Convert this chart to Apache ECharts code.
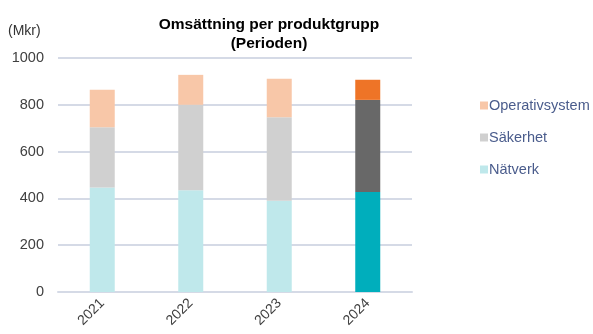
<!DOCTYPE html>
<html><head><meta charset="utf-8">
<script src="https://cdn.jsdelivr.net/npm/echarts@6/dist/echarts.min.js"></script>
<style>html,body{margin:0;padding:0;background:#fff}#c{width:593px;height:334px}</style>
</head><body><div id="c"></div>
<script>
const categories = ['2021','2022','2023','2024'];
const natverk = [447, 435, 390, 427];
const sakerhet = [257, 365, 357, 394];
const operativsystem = [160, 128, 164, 86];
const yTicks = [0, 200, 400, 600, 800, 1000];

const lightColors = {nat:'#BFE8EB', sak:'#D0D0D0', os:'#F8C7A8'};
const darkColors = {nat:'#00AEBC', sak:'#686868', os:'#EE7427'};

function mk(vals, key){
  return vals.map((v,i)=>({value:v, itemStyle:{color: i===vals.length-1 ? darkColors[key] : lightColors[key]}}));
}
const font = 'Liberation Sans, Arial, sans-serif';
const chart = echarts.init(document.getElementById('c'));
chart.setOption({
  animation:false,
  title:{text:'Omsättning per produktgrupp\n(Perioden)', left:264, top:10, textAlign:'center',
    textStyle:{fontFamily:font,fontSize:15.5,fontWeight:'bold',color:'#000',lineHeight:19}},
  graphic:[{type:'text',left:8,top:24,style:{text:'(Mkr)',font:'14px '+font,fill:'#333'}}],
  legend:{orient:'vertical',left:475,top:93,itemGap:17,itemWidth:8,itemHeight:8,icon:'rect',
    data:['Operativsystem','Säkerhet','Nätverk'],
    textStyle:{fontFamily:font,fontSize:14.5,color:'#4A5C8C',padding:[0,0,0,-4]}},
  grid:{left:58,right:181,top:58,bottom:42},
  xAxis:{type:'category',data:categories,
    axisLine:{lineStyle:{color:'#D5DAE6',width:2}},axisTick:{show:false},
    axisLabel:{rotate:45,fontFamily:font,fontSize:14,color:'#404040',margin:9}},
  yAxis:{type:'value',min:0,max:1000,interval:200,
    axisLine:{show:false},axisTick:{show:false},
    splitLine:{lineStyle:{color:'#D5DAE6',width:2}},
    axisLabel:{fontFamily:font,fontSize:14.5,color:'#404040',margin:14,
      formatter:v=>yTicks.includes(v)?String(v):''}},
  series:[
    {name:'Nätverk',type:'bar',stack:'a',barWidth:25,data:mk(natverk,'nat'),itemStyle:{color:lightColors.nat}},
    {name:'Säkerhet',type:'bar',stack:'a',barWidth:25,data:mk(sakerhet,'sak'),itemStyle:{color:lightColors.sak}},
    {name:'Operativsystem',type:'bar',stack:'a',barWidth:25,data:mk(operativsystem,'os'),itemStyle:{color:lightColors.os}}
  ]
});
</script></body></html>
